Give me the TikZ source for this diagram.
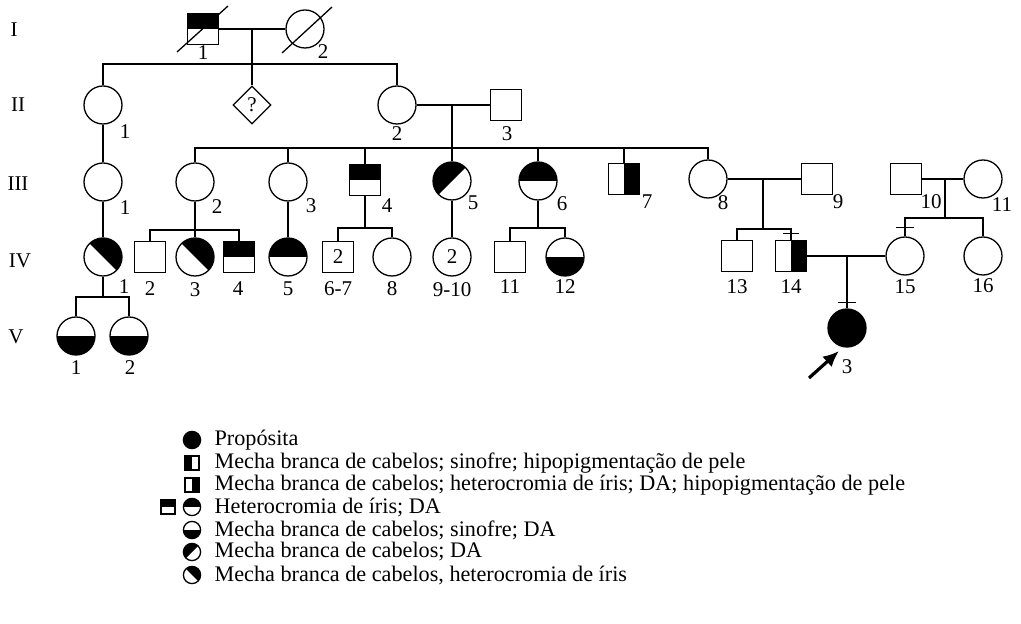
\documentclass[tikz,border=0pt]{standalone}
\usepackage{fontspec}
\setmainfont{Liberation Serif}
\usetikzlibrary{arrows.meta,calc,positioning,shapes.geometric}

\begin{document}
\begin{tikzpicture}[x=0.5pt, y=-0.5pt, line width=0.65pt, font=\fontsize{10.5}{12}\selectfont]
  \tikzset{male/.style={draw, rectangle, minimum size=15.5pt, inner sep=0pt},
    female/.style={draw, circle, minimum size=19pt, inner sep=0pt},
    unknown/.style={draw, diamond, minimum size=19pt, inner sep=0pt},
    tophalf/.style={path picture={\fill (path picture bounding box.north west) rectangle (path picture bounding box.east);}},
    bottomhalf/.style={path picture={\fill (path picture bounding box.west) rectangle (path picture bounding box.south east);}},
    lefthalf/.style={path picture={\fill (path picture bounding box.north west) rectangle (path picture bounding box.south);}},
    righthalf/.style={path picture={\fill (path picture bounding box.north) rectangle (path picture bounding box.south east);}},
    diagup/.style={path picture={\fill (path picture bounding box.south west) -- (path picture bounding box.north west) -- (path picture bounding box.north east) -- cycle;}},
    diagdown/.style={path picture={\fill (path picture bounding box.north west) -- (path picture bounding box.north east) -- (path picture bounding box.south east) -- cycle;}},
    keycirc/.style={female, minimum size=8.6pt},
    keysq/.style={male, minimum size=7pt},
    keytext/.style={anchor=west, inner sep=0pt, font=\fontsize{11.1}{13}\selectfont}}
  \useasboundingbox (0,0) rectangle (1021,624);

  % generations
  \node (gI) at (14,30) {I};
  \node (gII) at (18,105) {II};
  \node (gIII) at (18,184) {III};
  \node (gIV) at (20,261) {IV};
  \node (gV) at (16,337) {V};

  % generation I
  \node[male, tophalf] (I1) at (203,29) {};
  \node[female] (I2) at (305,29) {};
  \draw ($(I1)+(-26,23)$) -- ($(I1)+(25,-23)$);
  \draw ($(I2)+(-23,24)$) -- ($(I2)+(27,-22)$);
  \node (nI1) at (203,53) {1};
  \node (nI2) at (323,52) {2};

  % generation II
  \node[female] (II1) at (103,105) {};
  \node[unknown] (Q) at (252,105) {?};
  \node[female] (II2) at (397,105) {};
  \node[male] (II3) at (506,105) {};
  \node (nII1) at (125,132) {1};
  \node (nII2) at (397,134) {2};
  \node (nII3) at (507,134) {3};

  % generation III
  \node[female] (III1) at (103,182) {};
  \node[female] (III2) at (195,182) {};
  \node[female] (III3) at (288,182) {};
  \node[male, tophalf] (III4) at (365,180) {};
  \node[female, diagup] (III5) at (452,181) {};
  \node[female, tophalf] (III6) at (538,181) {};
  \node[male, righthalf] (III7) at (624,179) {};
  \node[female] (III8) at (708,179) {};
  \node[male] (III9) at (817,179) {};
  \node[male] (III10) at (906,179) {};
  \node[female] (III11) at (983,179) {};
  \node (nIII1) at (125,208) {1};
  \node (nIII2) at (217,207) {2};
  \node (nIII3) at (311,206) {3};
  \node (nIII4) at (387,206) {4};
  \node (nIII5) at (473,203) {5};
  \node (nIII6) at (562,204) {6};
  \node (nIII7) at (647,202) {7};
  \node (nIII8) at (723,203) {8};
  \node (nIII9) at (838,202) {9};
  \node (nIII10) at (931,202) {10};
  \node (nIII11) at (1002,205) {11};

  % generation IV
  \node[female, diagdown] (IV1) at (103,257) {};
  \node[male] (IV2) at (150,257) {};
  \node[female, diagdown] (IV3) at (195,257) {};
  \node[male, tophalf] (IV4) at (239,257) {};
  \node[female, tophalf] (IV5) at (288,257) {};
  \node[male] (IV67) at (338,257) {2};
  \node[female] (IV8) at (392,257) {};
  \node[female] (IV910) at (452,257) {2};
  \node[male] (IV11) at (510,257) {};
  \node[female, bottomhalf] (IV12) at (565,257) {};
  \node[male] (IV13) at (737,256) {};
  \node[male, righthalf] (IV14) at (791,256) {};
  \node[female] (IV15) at (905,256) {};
  \node[female] (IV16) at (983,256) {};
  \node (nIV1) at (124,287) {1};
  \node (nIV2) at (150,289) {2};
  \node (nIV3) at (195,290) {3};
  \node (nIV4) at (238,289) {4};
  \node (nIV5) at (288,289) {5};
  \node (nIV67) at (338,289) {6-7};
  \node (nIV8) at (392,289) {8};
  \node (nIV910) at (452,290) {9-10};
  \node (nIV11) at (510,287) {11};
  \node (nIV12) at (565,287) {12};
  \node (nIV13) at (737,287) {13};
  \node (nIV14) at (791,287) {14};
  \node (nIV15) at (905,287) {15};
  \node (nIV16) at (983,286) {16};

  % generation V
  \node[female, bottomhalf] (V1) at (76,336) {};
  \node[female, bottomhalf] (V2) at (129,336) {};
  \node[female, fill=black] (V3) at (847,328) {};
  \node (nV1) at (76,368) {1};
  \node (nV2) at (130,368) {2};
  \node (nV3) at (847,367) {3};

  % lines of descent
  \coordinate (mI) at (252,29);
  \coordinate (sI) at (252,64);
  \draw (I1) -- (I2);
  \draw (mI) -- (sI) -- (Q.north);
  \draw (II1.north) |- (sI) -| (II2.north);

  \coordinate (mII) at (452,105);
  \coordinate (sII) at (452,148);
  \draw (II2) -- (II3);
  \draw (mII) -- (III5.north);
  \draw (III2.north) |- (sII) -| (III8.north);
  \foreach \n in {III3,III4,III6,III7}
    \draw (\n.north) -- (\n.north |- sII);
  \draw (II1) -- (III1);

  \draw (III1) -- (IV1);
  \coordinate (sIII2) at (195,230);
  \draw (III2) -- (IV3);
  \draw (IV2.north) |- (sIII2) -| (IV4.north);
  \draw (III3) -- (IV5);
  \coordinate (sIII4) at (365,228);
  \draw (III4) -- (sIII4);
  \draw (IV67.north) |- (sIII4) -| (IV8.north);
  \draw (III5) -- (IV910);
  \coordinate (sIII6) at (538,228);
  \draw (III6) -- (sIII6);
  \draw (IV11.north) |- (sIII6) -| (IV12.north);

  \coordinate (mIII8) at (763,179);
  \coordinate (sIII8) at (763,229);
  \draw (III8) -- (III9);
  \draw[line width=0.9pt] (mIII8) -- (sIII8);
  \draw (IV13.north) |- (sIII8) -| (IV14.north);
  \coordinate (mIII10) at (945,179);
  \coordinate (sIII10) at (945,218);
  \draw (III10) -- (III11);
  \draw (mIII10) -- (sIII10);
  \draw (IV15.north) |- (sIII10) -| (IV16.north);

  \coordinate (mIV14) at (847,256);
  \draw (IV14) -- (IV15);
  \draw[line width=0.9pt] (mIV14) -- (V3.north);
  \coordinate (sIV1) at (103,297);
  \draw (IV1) -- (sIV1);
  \draw (V1.north) |- (sIV1) -| (V2.north);

  % short bars across the lines
  \draw ($(IV14.north)+(-8,-6)$) -- ++(16,0);
  \draw ($(IV15.north)+(-9,-9)$) -- ++(18,0);
  \draw ($(V3.north)+(-9,-6)$) -- ++(18,0);

  % propositus
  \coordinate (arrtail) at (809,378);
  \coordinate (arrhead) at (839,351);
  \draw[-{Latex[length=8pt,width=7pt]}, line width=1.6pt] (arrtail) -- (arrhead);

  % key
  \node[keycirc, fill=black] (k1) at (192,440) {};
  \node[keysq, lefthalf] (k2) at (192,463) {};
  \node[keysq, righthalf] (k3) at (192,485) {};
  \node[keysq, tophalf] (k4a) at (168,507) {};
  \node[keycirc, tophalf] (k4b) at (192,507) {};
  \node[keycirc, bottomhalf] (k5) at (192,530) {};
  \node[keycirc, diagup] (k6) at (192,552) {};
  \node[keycirc, diagdown] (k7) at (192,575) {};
  \node[keytext] (t1) at (214,440) {Propósita};
  \node[keytext] (t2) at (214,463) {Mecha branca de cabelos; sinofre; hipopigmentação de pele};
  \node[keytext] (t3) at (214,485) {Mecha branca de cabelos; heterocromia de íris; DA; hipopigmentação de pele};
  \node[keytext] (t4) at (214,507) {Heterocromia de íris; DA};
  \node[keytext] (t5) at (214,530) {Mecha branca de cabelos; sinofre; DA};
  \node[keytext] (t6) at (214,552) {Mecha branca de cabelos; DA};
  \node[keytext] (t7) at (214,575) {Mecha branca de cabelos, heterocromia de íris};
\end{tikzpicture}
\end{document}
